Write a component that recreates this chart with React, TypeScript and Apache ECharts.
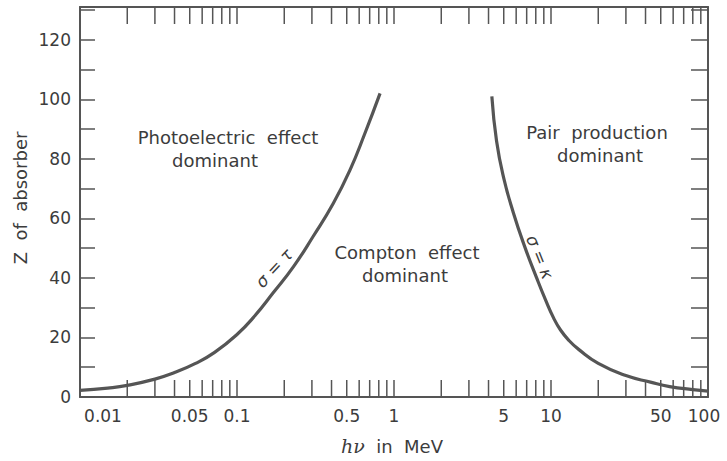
import React, { useEffect, useRef } from "react";
import * as echarts from "echarts";

// Boundary curves: [hν in MeV, Z of absorber]
const photoComptonBoundary: [number, number][] = [
  [0.01, 2.2], [0.015, 3.0], [0.02, 3.9], [0.03, 6.0], [0.04, 8.2],
  [0.054, 11.2], [0.072, 15], [0.1, 21], [0.13, 27.3], [0.17, 35],
  [0.229, 43.8], [0.306, 54], [0.41, 65], [0.525, 76.3], [0.653, 88.6], [0.815, 102],
];
const comptonPairBoundary: [number, number][] = [
  [4.2, 101], [4.5, 86], [5, 73.5], [5.75, 62], [6.8, 50.5], [8.1, 40],
  [9.2, 32.8], [10.4, 26.5], [11.5, 22.5], [13, 19], [15, 16], [20, 11.3],
  [30, 7.2], [43, 5], [57, 3.5], [80, 2.5], [100, 2.0],
];

const xTickValues: number[] = [
  0.02, 0.03, 0.04, 0.05, 0.06, 0.07, 0.08, 0.09, 0.1,
  0.2, 0.3, 0.4, 0.5, 0.6, 0.7, 0.8, 0.9, 1,
  2, 3, 4, 5, 6, 7, 8, 9, 10,
  20, 30, 40, 50, 60, 70, 80, 90,
];
const xLabelValues: number[] = [0.01, 0.05, 0.1, 0.5, 1, 5, 10, 50, 100];
const xMin = 0.01;
const xMax = 100;
const yMin = 0;
const yMax = 131;
const yTickInterval = 10;
const yLabelStep = 20;
const yLabelMax = 120;

const FONT = '"DejaVu Sans", "Liberation Sans", sans-serif';
const INK = "#3c3c3c";
const LINE = "#555";
const AXIS = "#555";

export default function App() {
  const ref = useRef<HTMLDivElement>(null);

  useEffect(() => {
    if (!ref.current) return;
    const chart = echarts.init(ref.current, null, { renderer: "svg" });

    const tickRenderer = (top: boolean) => (params: any, api: any) => {
      const p = api.coord([api.value(0), top ? yMax : yMin]);
      return {
        type: "line",
        shape: { x1: p[0], y1: p[1], x2: p[0], y2: top ? p[1] + 17 : p[1] - 17 },
        style: { stroke: AXIS, lineWidth: 1.5 },
      };
    };

    const txt = (text: string, x: number, y: number, size = 18, extra: any = {}) => ({
      type: "text",
      x,
      y,
      ...extra,
      style: {
        text,
        align: "center",
        verticalAlign: "middle",
        fontSize: size,
        fontFamily: FONT,
        fill: INK,
        ...(extra.style || {}),
      },
    });

    const option: any = {
      animation: false,
      backgroundColor: "#fff",
      grid: { left: 80, right: 19, top: 7, bottom: 64, containLabel: false },
      xAxis: [
        {
          type: "log",
          min: xMin,
          max: xMax,
          logBase: 10,
          axisLine: { show: true, onZero: false, lineStyle: { color: AXIS, width: 2 } },
          axisTick: { show: false },
          axisLabel: { show: false },
          splitLine: { show: false },
        },
        {
          type: "log",
          position: "top",
          min: xMin,
          max: xMax,
          logBase: 10,
          axisLine: { show: true, onZero: false, lineStyle: { color: AXIS, width: 2 } },
          axisTick: { show: false },
          axisLabel: { show: false },
          splitLine: { show: false },
        },
      ],
      yAxis: [
        {
          type: "value",
          min: yMin,
          max: yMax,
          interval: yTickInterval,
          axisLine: { show: true, lineStyle: { color: AXIS, width: 2 } },
          axisTick: { show: true, inside: true, length: 15, lineStyle: { color: AXIS, width: 1.5 } },
          axisLabel: {
            color: INK,
            fontSize: 17,
            fontFamily: FONT,
            margin: 9,
            formatter: (v: number) => (v % yLabelStep === 0 && v <= yLabelMax ? String(v) : ""),
          },
          splitLine: { show: false },
        },
        {
          type: "value",
          position: "right",
          min: yMin,
          max: yMax,
          interval: yTickInterval,
          axisLine: { show: true, lineStyle: { color: AXIS, width: 2 } },
          axisTick: { show: true, inside: true, length: 17, lineStyle: { color: AXIS, width: 1.5 } },
          axisLabel: { show: false },
          splitLine: { show: false },
        },
      ],
      series: [
        {
          type: "line",
          name: "σ = τ",
          data: photoComptonBoundary,
          smooth: 0.5,
          showSymbol: false,
          symbol: "none",
          lineStyle: { color: LINE, width: 3.2 },
          z: 5,
        },
        {
          type: "line",
          name: "σ = κ",
          data: comptonPairBoundary,
          smooth: 0.5,
          showSymbol: false,
          symbol: "none",
          lineStyle: { color: LINE, width: 3.2 },
          z: 5,
        },
        {
          type: "custom",
          name: "bottomTicks",
          clip: false,
          data: xTickValues.map((v) => [v]),
          encode: { x: 0 },
          renderItem: tickRenderer(false),
          silent: true,
        },
        {
          type: "custom",
          name: "topTicks",
          clip: false,
          data: xTickValues.map((v) => [v]),
          encode: { x: 0 },
          renderItem: tickRenderer(true),
          silent: true,
        },
        {
          type: "custom",
          name: "xLabels",
          clip: false,
          data: xLabelValues.map((v) => [v]),
          encode: { x: 0 },
          silent: true,
          renderItem: (params: any, api: any) => {
            const v = api.value(0);
            const p = api.coord([v, yMin]);
            const dx = v === xMin ? 23 : v === xMax ? -4 : 0;
            return {
              type: "text",
              x: p[0] + dx,
              y: p[1] + 19,
              style: {
                text: String(v),
                align: "center",
                verticalAlign: "middle",
                fontSize: 17,
                fontFamily: FONT,
                fill: INK,
              },
            };
          },
        },
      ],
      graphic: [
        txt("Z  of  absorber", 20, 198, 18, { rotation: Math.PI / 2 }),
        {
          type: "text",
          x: 392,
          y: 446,
          style: {
            text: "{i|hν}  in  MeV",
            align: "center",
            verticalAlign: "middle",
            fontSize: 18,
            fontFamily: FONT,
            fill: INK,
            rich: {
              i: { fontStyle: "italic", fontFamily: '"DejaVu Serif", serif', fontSize: 19, fill: INK },
            },
          },
        },
        txt("Photoelectric  effect", 228, 137),
        txt("dominant", 215, 160),
        txt("Compton  effect", 407, 252),
        txt("dominant", 405, 275),
        txt("Pair  production", 597, 132),
        txt("dominant", 600, 155),
        txt("σ = τ", 274, 268, 17, { rotation: (47 * Math.PI) / 180, style: { fontStyle: "italic" } }),
        txt("σ = κ", 540, 257, 17, { rotation: (-68 * Math.PI) / 180, style: { fontStyle: "italic" } }),
      ],
    };

    chart.setOption(option);
    return () => chart.dispose();
  }, []);

  return <div ref={ref} style={{ width: 727, height: 461, position: "absolute", left: 0, top: 0 }} />;
}
